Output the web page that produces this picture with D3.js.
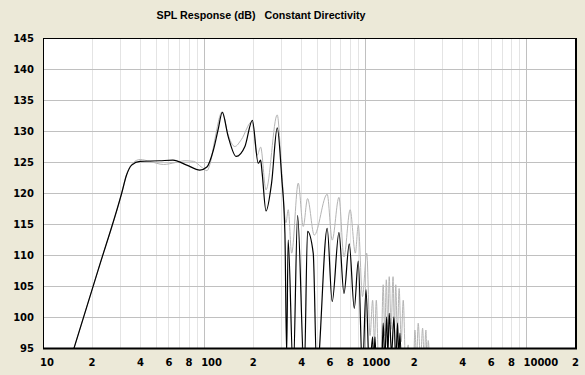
<!DOCTYPE html>
<html>
<head>
<meta charset="utf-8">
<script src="https://cdn.jsdelivr.net/npm/d3@7"></script>
<style>
  body { margin: 0; background: #ECE9D8; }
  svg { display: block; }
  .axis text { font-family: "DejaVu Sans", Verdana, sans-serif; font-size: 10px; font-weight: bold; fill: #000; }
  .axis path { display: none; }
</style>
</head>
<body>
<svg id="root"></svg>
<script>
// x axis ticks (Hz) and the labels printed under them
const xTickValues = [10, 20, 40, 60, 80, 100, 200, 400, 600, 800, 1000, 2000, 4000, 6000, 8000, 10000, 20000];
const xTickLabels = ['10', '2', '4', '6', '8', '100', '2', '4', '6', '8', '1000', '2', '4', '6', '8', '10000', '2'];
const yTicks = [95, 100, 105, 110, 115, 120, 125, 130, 135, 140, 145];

// main response (black)
const blackFreq = [15, 22, 30.8, 33, 35.5, 40, 53, 64, 78, 94, 104, 114, 122, 129.5, 141, 158, 179, 199, 216.5, 224, 229, 242, 262, 284,
  302.6, 317, 325, 332, 357, 380, 418, 438, 475, 500, 580, 623, 686, 737, 795, 854, 904, 960, 1010, 1060,
  1110, 1128, 1147, 1175, 1260, 1291, 1320, 1356, 1380, 1407, 1455, 1504, 1545, 1586, 1612, 1639, 1680];
const blackSpl = [93.6, 107.6, 120, 122.9, 124.5, 125.1, 125.2, 125.3, 124.5, 123.7, 124.2, 126.9, 130.2, 133, 129.1, 125.9, 127.5, 131.7, 124.8, 125.3, 123.2, 117.1, 121.6, 130.5,
  122.6, 113.5, 94, 112.4, 91, 116.4, 91, 113.8, 110.3, 91, 114.3, 102.5, 113.6, 103.8, 111.8, 101.4, 109, 91, 104.4, 91,
  96.8, 92, 96.8, 91, 91, 99, 93, 100, 94, 100.6, 94, 100, 93, 99, 93, 97.4, 90];

// second response (grey)
const grayFreq = [15, 22, 30.8, 33, 36, 40, 46, 56, 66, 76, 86, 96, 104, 110, 116, 129.5, 140, 155, 170, 197.6, 213.5, 224, 242, 284,
  302.6, 321.7, 332.4, 349, 383.6, 412, 438, 482, 580, 623, 686, 737, 805, 867, 904, 960, 1020, 1070,
  1110, 1140, 1170, 1210, 1250, 1291, 1320, 1350, 1378, 1407, 1445, 1486, 1515, 1545, 1580, 1621, 1670, 1719, 1780,
  1846, 1900, 1990, 2031, 2080, 2129, 2200, 2267, 2320, 2376, 2420, 2456, 2520];
const graySpl = [93.6, 107.6, 120, 123, 124.8, 125.4, 125.1, 124.6, 124.9, 125.2, 125.1, 124.2, 123.6, 125.2, 128.4, 133.1, 129.6, 127.5, 128.6, 131.5, 126.1, 127.4, 120.5, 132.6,
  123.7, 115.2, 117.3, 110.3, 121.6, 114.6, 119.1, 113.2, 119.8, 112.4, 119.3, 109.7, 117.3, 110.3, 114.8, 103.3, 110.3, 97,
  102.7, 96, 102.7, 92, 93, 105.2, 97, 106, 98, 106.5, 98, 106.5, 98, 105.2, 97, 104.6, 96, 102.7, 92,
  95.5, 90, 92, 97.9, 93, 99, 93, 98.2, 93, 97.9, 92, 96.2, 90];

const width = 585, height = 375;
const plot = { left: 43, right: 575, top: 38, bottom: 348 };

const svg = d3.select('#root')
    .attr('width', width)
    .attr('height', height);

svg.append('rect')
    .attr('width', width)
    .attr('height', height)
    .attr('fill', '#ECE9D8');

const xScale = d3.scaleLog()
    .domain([10, 20000])
    .range([plot.left, plot.right]);

const yScale = d3.scaleLinear()
    .domain([95, 145])
    .range([plot.bottom, plot.top]);

// plot background
svg.append('rect')
    .attr('x', plot.left)
    .attr('y', plot.top)
    .attr('width', plot.right - plot.left)
    .attr('height', plot.bottom - plot.top)
    .attr('fill', '#fff');

// vertical grid: light for 2..9, darker at decades
const gridX = xScale.ticks().filter(d => d > 10 && d < 20000);
svg.append('g')
    .selectAll('line')
    .data(gridX)
    .enter()
    .append('line')
        .attr('x1', d => Math.round(xScale(d)) + 0.5)
        .attr('x2', d => Math.round(xScale(d)) + 0.5)
        .attr('y1', plot.top)
        .attr('y2', plot.bottom)
        .attr('stroke', d => [100, 1000, 10000].includes(d) ? '#C0C0C0' : '#E4E4E4');

// horizontal grid
svg.append('g')
    .selectAll('line')
    .data(yTicks.slice(1, -1))
    .enter()
    .append('line')
        .attr('x1', plot.left)
        .attr('x2', plot.right)
        .attr('y1', d => Math.round(yScale(d)) + 0.5)
        .attr('y2', d => Math.round(yScale(d)) + 0.5)
        .attr('stroke', '#C0C0C0');

svg.append('clipPath')
    .attr('id', 'clip')
    .append('rect')
        .attr('x', plot.left)
        .attr('y', plot.top)
        .attr('width', plot.right - plot.left)
        .attr('height', plot.bottom - plot.top);

const line = d3.line()
    .x(d => xScale(d[0]))
    .y(d => yScale(d[1]))
    .curve(d3.curveMonotoneX);

const curves = svg.append('g').attr('clip-path', 'url(#clip)');

curves.append('path')
    .datum(d3.zip(grayFreq, graySpl))
    .attr('fill', 'none')
    .attr('stroke', '#B4B4B4')
    .attr('stroke-width', 1)
    .attr('d', line);

curves.append('path')
    .datum(d3.zip(blackFreq, blackSpl))
    .attr('fill', 'none')
    .attr('stroke', '#000')
    .attr('stroke-width', 1.2)
    .attr('d', line);

// frame: thin top/left, heavier right/bottom
svg.append('rect')
    .attr('x', plot.left + 0.5)
    .attr('y', plot.top + 0.5)
    .attr('width', plot.right - plot.left)
    .attr('height', plot.bottom - plot.top)
    .attr('fill', 'none')
    .attr('stroke', '#000');
svg.append('line')
    .attr('x1', plot.left).attr('x2', plot.right + 2)
    .attr('y1', plot.bottom + 0.5).attr('y2', plot.bottom + 0.5)
    .attr('stroke', '#000').attr('stroke-width', 2);
svg.append('line')
    .attr('x1', plot.right + 1).attr('x2', plot.right + 1)
    .attr('y1', plot.top).attr('y2', plot.bottom + 1)
    .attr('stroke', '#000').attr('stroke-width', 2);

// axes
const axisX = d3.axisBottom(xScale)
    .tickValues(xTickValues)
    .tickFormat((d, i) => xTickLabels[i])
    .tickSize(0)
    .tickPadding(11);

svg.append('g')
    .attr('class', 'axis')
    .attr('transform', `translate(0, ${plot.bottom})`)
    .call(axisX)
    .selectAll('text')
        .attr('text-anchor', d => String(xTickLabels[xTickValues.indexOf(d)]).length > 1 ? 'start' : 'middle')
        .attr('dx', d => String(xTickLabels[xTickValues.indexOf(d)]).length > 1 ? -3.5 : 0);

const axisY = d3.axisLeft(yScale)
    .tickValues(yTicks)
    .tickSize(0)
    .tickPadding(9);

svg.append('g')
    .attr('class', 'axis')
    .attr('transform', `translate(${plot.left}, 0)`)
    .call(axisY);

// title
svg.append('text')
    .attr('x', 261)
    .attr('y', 19)
    .attr('text-anchor', 'middle')
    .attr('textLength', 209)
    .attr('lengthAdjust', 'spacingAndGlyphs')
    .style('white-space', 'pre')
    .style('font-family', '"Liberation Sans", Arial, sans-serif')
    .style('font-size', '11.5px')
    .style('font-weight', 'bold')
    .text('SPL Response (dB)   Constant Directivity');
</script>
</body>
</html>
